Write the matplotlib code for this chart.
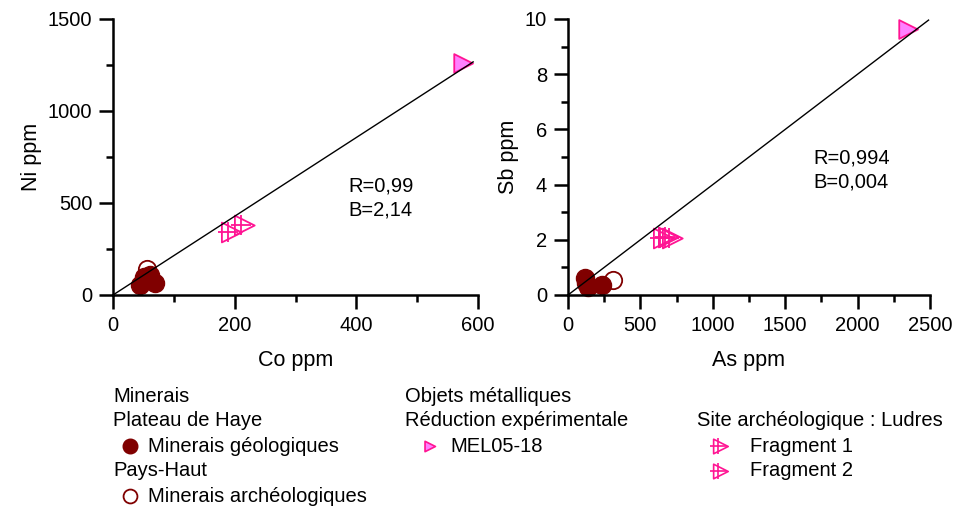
import matplotlib
matplotlib.use("Agg")
import matplotlib.pyplot as plt
from matplotlib.path import Path
from matplotlib.markers import MarkerStyle

plt.rcParams['font.family'] = ['Liberation Sans', 'DejaVu Sans']

# ---- data: left panel (Co vs Ni) ----
geo_co = [44, 51, 69, 61]
geo_ni = [54, 98, 65, 109]
arch_co = [56]
arch_ni = [141]
mel_co = [570]
mel_ni = [1262]
frag1_co = [189]
frag1_ni = [340]
frag2_co = [210]
frag2_ni = [380]
fit_co = [0, 592]
slope_ni = 2.14
stats_left = "R=0,99\nB=2,14"

# ---- data: right panel (As vs Sb) ----
geo_as = [117, 138, 235, 125]
geo_sb = [0.62, 0.29, 0.36, 0.45]
arch_as = [311]
arch_sb = [0.54]
mel_as = [2325]
mel_sb = [9.64]
frag1_as = [635]
frag1_sb = [2.07]
frag2_as = [670, 700]
frag2_sb = [2.09, 2.06]
fit_as = [0, 2490]
slope_sb = 0.004
stats_right = "R=0,994\nB=0,004"

DARK = '#800000'
PINK_FILL = '#FF80FF'
PINK_EDGE = '#FF1493'
FRAG = '#FF1493'

# right-pointing triangle centred on its centroid
TRI = MarkerStyle(Path([(4 / 3, 0), (-2 / 3, 1), (-2 / 3, -1), (4 / 3, 0)],
                       [Path.MOVETO, Path.LINETO, Path.LINETO, Path.CLOSEPOLY]))

fig = plt.figure(figsize=(9.56, 5.12), dpi=100)
W, H = 956, 512

def axes_px(x0, x1, y0, y1):
    return fig.add_axes([x0 / W, 1 - y1 / H, (x1 - x0) / W, (y1 - y0) / H])

axL = axes_px(113, 478, 19, 295)
axR = axes_px(568, 930, 19, 295)

FS = 14.5
LFS = 15.5

def style(ax, xlim, ylim, xmaj, xmin, ymaj, ymin):
    ax.set_xlim(*xlim)
    ax.set_ylim(*ylim)
    for s in ['top', 'right']:
        ax.spines[s].set_visible(False)
    for s in ['left', 'bottom']:
        ax.spines[s].set_linewidth(1.8)
    ax.set_xticks(xmaj)
    ax.set_xticks(xmin, minor=True)
    ax.set_yticks(ymaj)
    ax.set_yticks(ymin, minor=True)
    ax.tick_params(which='major', direction='out', length=10, width=1.8, labelsize=FS, pad=5)
    ax.tick_params(which='minor', direction='out', length=5, width=1.8)
    ax.patch.set_visible(False)

def draw(ax, g, a, m, f1, f2, fitx, slope):
    ax.plot(a[0], a[1], 'o', ms=12.5, mfc='white', mec=DARK, mew=1.3, ls='none', clip_on=False)
    ax.plot(g[0], g[1], 'o', ms=13, mfc=DARK, mec=DARK, ls='none', clip_on=False)
    ax.plot(m[0], m[1], marker=TRI, ms=18, mfc=PINK_FILL, mec=PINK_EDGE, mew=1.3, ls='none', clip_on=False)
    for fx, fy in (f1, f2):
        ax.plot(fx, fy, marker=TRI, ms=19, mfc='none', mec=FRAG, mew=1.3, ls='none', clip_on=False)
        ax.plot(fx, fy, '+', ms=15, mec=FRAG, mew=1.3, ls='none', clip_on=False)
    ax.plot(fitx, [x * slope for x in fitx], color='black', lw=1.0, clip_on=False)

draw(axL, (geo_co, geo_ni), (arch_co, arch_ni), (mel_co, mel_ni),
     (frag1_co, frag1_ni), (frag2_co, frag2_ni), fit_co, slope_ni)
style(axL, (0, 600), (0, 1500), [0, 200, 400, 600], [100, 300, 500],
      [0, 500, 1000, 1500], [250, 750, 1250])
axL.set_xlabel('Co ppm', fontsize=LFS, labelpad=11)
axL.set_ylabel('Ni ppm', fontsize=LFS, labelpad=4)
axL.text(0.644, 0.351, stats_left, transform=axL.transAxes, fontsize=FS,
         va='center', ha='left', linespacing=1.35)

draw(axR, (geo_as, geo_sb), (arch_as, arch_sb), (mel_as, mel_sb),
     (frag1_as, frag1_sb), (frag2_as, frag2_sb), fit_as, slope_sb)
style(axR, (0, 2500), (0, 10), [0, 500, 1000, 1500, 2000, 2500],
      [250, 750, 1250, 1750, 2250], [0, 2, 4, 6, 8, 10], [1, 3, 5, 7, 9])
axR.set_xlabel('As ppm', fontsize=LFS, labelpad=11)
axR.set_ylabel('Sb ppm', fontsize=LFS, labelpad=4)
axR.text(0.677, 0.453, stats_right, transform=axR.transAxes, fontsize=FS,
         va='center', ha='left', linespacing=1.35)

# ---- legend (custom layout) ----
lg = fig.add_axes([0, 0, 1, 1])
lg.set_xlim(0, W)
lg.set_ylim(H, 0)
lg.axis('off')

def t(x, y, s):
    lg.text(x, y, s, fontsize=FS, va='center', ha='left')

t(113, 397, 'Minerais')
t(113, 421, 'Plateau de Haye')
lg.plot([130], [446], 'o', ms=10.5, mfc=DARK, mec=DARK)
t(148, 446, 'Minerais géologiques')
t(113, 471, 'Pays-Haut')
lg.plot([130], [496], 'o', ms=10, mfc='white', mec=DARK, mew=1.3)
t(148, 496, 'Minerais archéologiques')

t(405, 397, 'Objets métalliques')
t(405, 421, 'Réduction expérimentale')
lg.plot([428], [446], marker=TRI, ms=10, mfc=PINK_FILL, mec=PINK_EDGE, mew=1.2)
t(450, 446, 'MEL05-18')

t(697, 421, 'Site archéologique : Ludres')
for yy, lab in ((446, 'Fragment 1'), (471, 'Fragment 2')):
    lg.plot([718], [yy], marker=TRI, ms=14, mfc='none', mec=FRAG, mew=1.2)
    lg.plot([718], [yy], '+', ms=11, mec=FRAG, mew=1.2)
    t(750, yy, lab)

fig.savefig('out.png', dpi=100)
